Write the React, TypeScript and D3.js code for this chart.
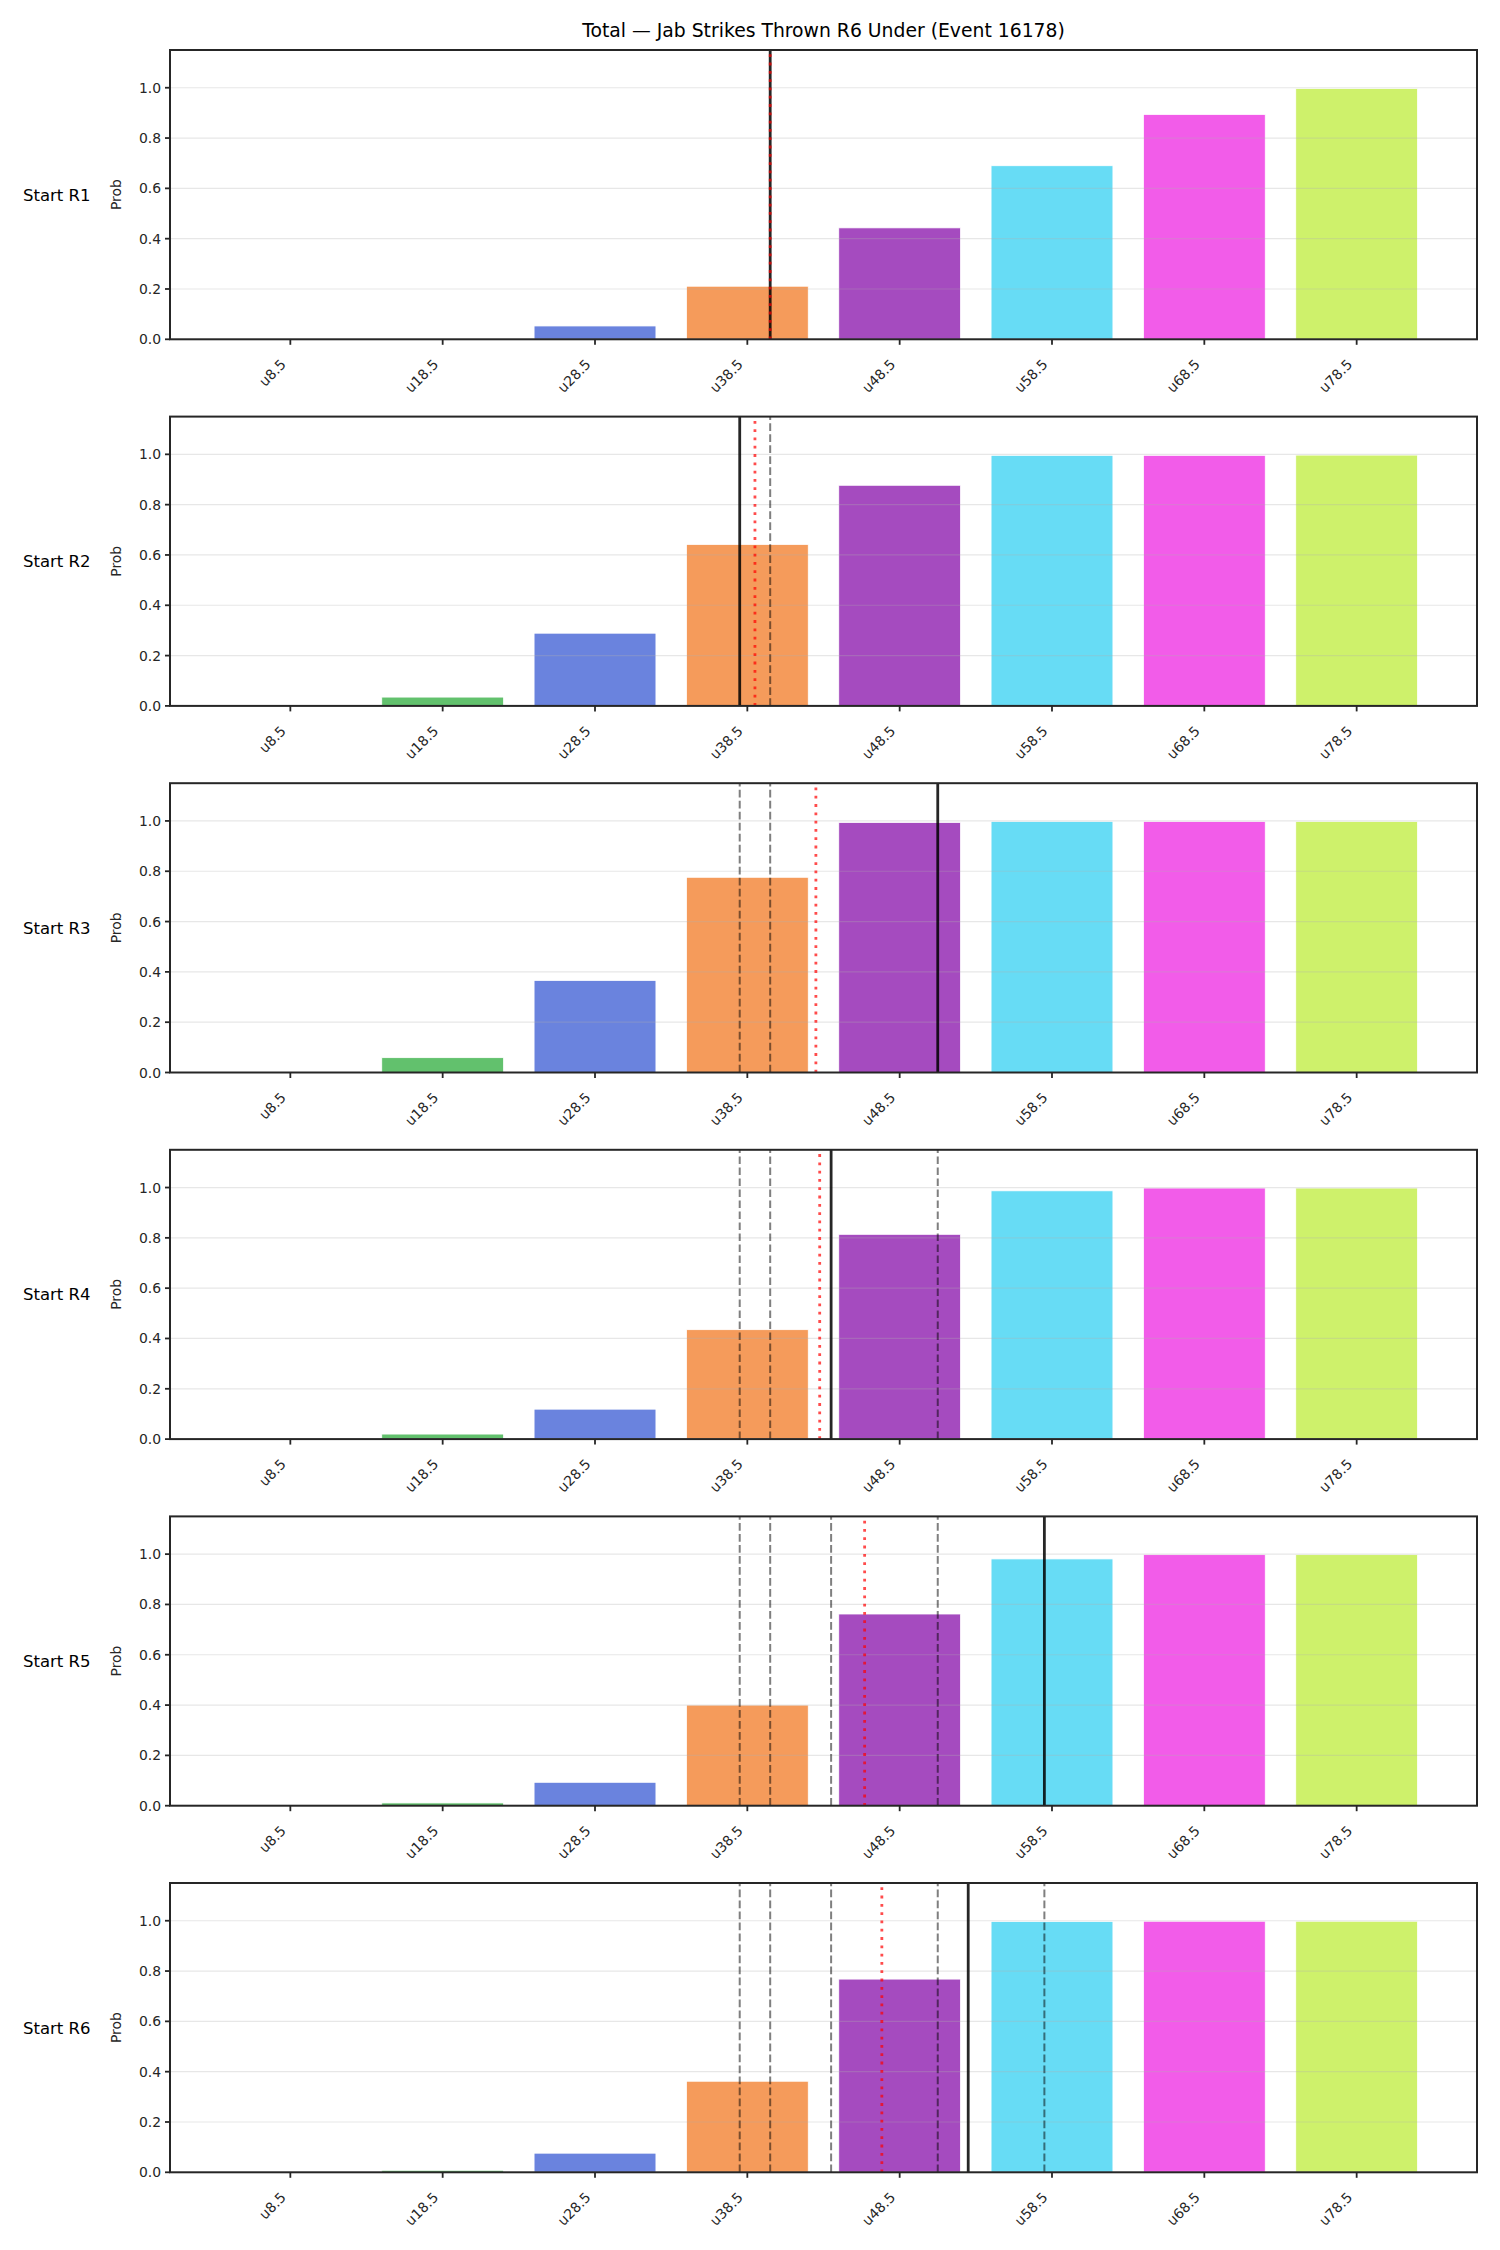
import React from "react";
import * as d3 from "d3";

// Under thresholds (strike counts) and their tick labels
const thresholds = [8.5, 18.5, 28.5, 38.5, 48.5, 58.5, 68.5, 78.5];
const tickLabels = ["u8.5", "u18.5", "u28.5", "u38.5", "u48.5", "u58.5", "u68.5", "u78.5"];
const barColors = ["#e9585a", "#62c16d", "#6a83de", "#f59b5b", "#a54bbf", "#67dcf5", "#f25ce9", "#cef16b"];

// Row labels
const rowLabels = ["Start R1", "Start R2", "Start R3", "Start R4", "Start R5", "Start R6"];

// P(under) per threshold, one array per starting round
const probR1 = [0, 0, 0.053, 0.211, 0.443, 0.69, 0.894, 0.997];
const probR2 = [0, 0.035, 0.289, 0.642, 0.877, 0.996, 0.996, 0.997];
const probR3 = [0, 0.059, 0.366, 0.776, 0.994, 0.998, 0.998, 0.998];
const probR4 = [0, 0.02, 0.119, 0.435, 0.814, 0.987, 0.998, 0.998];
const probR5 = [0, 0.011, 0.093, 0.4, 0.762, 0.981, 0.998, 0.998];
const probR6 = [0, 0.008, 0.076, 0.362, 0.768, 0.997, 0.998, 0.998];
const probRows = [probR1, probR2, probR3, probR4, probR5, probR6];

// Projected total at each round start (solid), and running mean (dotted red)
const projected = [40, 38, 51, 44, 58, 53];
const runningMean = [40, 39, 43, 43.25, 46.2, 47.33];

const yTicks = [0, 0.2, 0.4, 0.6, 0.8, 1.0];

const W = 1500;
const H = 2250;
const left = 170;
const right = 1477;
const firstTop = 50;
const rowStep = 366.6;
const panelH = 289.3;
const FONT = "DejaVu Sans, sans-serif";
const INK = "#262626";

export default function App() {
  const x = d3.scaleLinear().domain([0.6, 86.4]).range([left, right]);
  const barW = x(8) - x(0);

  return (
    <svg width={W} height={H} style={{ display: "block", position: "absolute", left: 0, top: 0, background: "#fff" }}>
      <rect x={0} y={0} width={W} height={H} fill="#fff" />
      <text x={(left + right) / 2} y={37} textAnchor="middle" fontFamily={FONT} fontSize={18.8} fill="#000">
        Total — Jab Strikes Thrown R6 Under (Event 16178)
      </text>
      {probRows.map((probs, r) => {
        const top = firstTop + r * rowStep;
        const bottom = top + panelH;
        const y = d3.scaleLinear().domain([0, 1.15]).range([bottom, top]);
        const mid = (top + bottom) / 2;
        return (
          <g key={r}>
            {/* bars */}
            {probs.map((p, i) => (
              <rect
                key={i}
                x={x(thresholds[i]) - barW / 2}
                y={y(p)}
                width={barW}
                height={Math.max(0, y(0) - y(p))}
                fill={barColors[i]}
                stroke="#fff"
                strokeWidth={0.8}
              />
            ))}
            {/* horizontal grid */}
            {yTicks.map((t) => (
              <line key={t} x1={left} x2={right} y1={y(t)} y2={y(t)} stroke="#b0b0b0" strokeOpacity={0.3} strokeWidth={1.2} />
            ))}
            {/* earlier rounds' projections */}
            {projected.slice(0, r).map((v, k) => (
              <line key={k} x1={x(v)} x2={x(v)} y1={bottom} y2={top} stroke="#000" strokeOpacity={0.5} strokeWidth={2} strokeDasharray="7.7,3.3" />
            ))}
            {/* current projection */}
            <line x1={x(projected[r])} x2={x(projected[r])} y1={bottom} y2={top} stroke="#000" strokeOpacity={0.85} strokeWidth={2.8} />
            {/* running mean */}
            <line x1={x(runningMean[r])} x2={x(runningMean[r])} y1={bottom} y2={top} stroke="#ff0000" strokeOpacity={0.7} strokeWidth={2.8} strokeDasharray="2.8,5.5" />
            {/* frame */}
            <rect x={left} y={top} width={right - left} height={panelH} fill="none" stroke={INK} strokeWidth={2} />
            {/* y ticks */}
            {yTicks.map((t) => (
              <g key={t}>
                <line x1={left - 5} x2={left} y1={y(t)} y2={y(t)} stroke={INK} strokeWidth={1.8} />
                <text x={left - 9} y={y(t)} dy="0.36em" textAnchor="end" fontFamily={FONT} fontSize={13.9} fill={INK}>
                  {t.toFixed(1)}
                </text>
              </g>
            ))}
            {/* x ticks */}
            {thresholds.map((v, i) => (
              <g key={v}>
                <line x1={x(v)} x2={x(v)} y1={bottom} y2={bottom + 5.5} stroke={INK} strokeWidth={1.8} />
                <text
                  transform={`translate(${x(v) - 3.5},${bottom + 26}) rotate(-45)`}
                  textAnchor="end"
                  fontFamily={FONT}
                  fontSize={13.9}
                  fill={INK}
                >
                  {tickLabels[i]}
                </text>
              </g>
            ))}
            {/* axis label and row label */}
            <text transform={`translate(121,${mid}) rotate(-90)`} textAnchor="middle" fontFamily={FONT} fontSize={13.9} fill={INK}>
              Prob
            </text>
            <text x={23} y={mid} dy="0.36em" fontFamily={FONT} fontSize={16.5} fill="#000">
              {rowLabels[r]}
            </text>
          </g>
        );
      })}
    </svg>
  );
}
